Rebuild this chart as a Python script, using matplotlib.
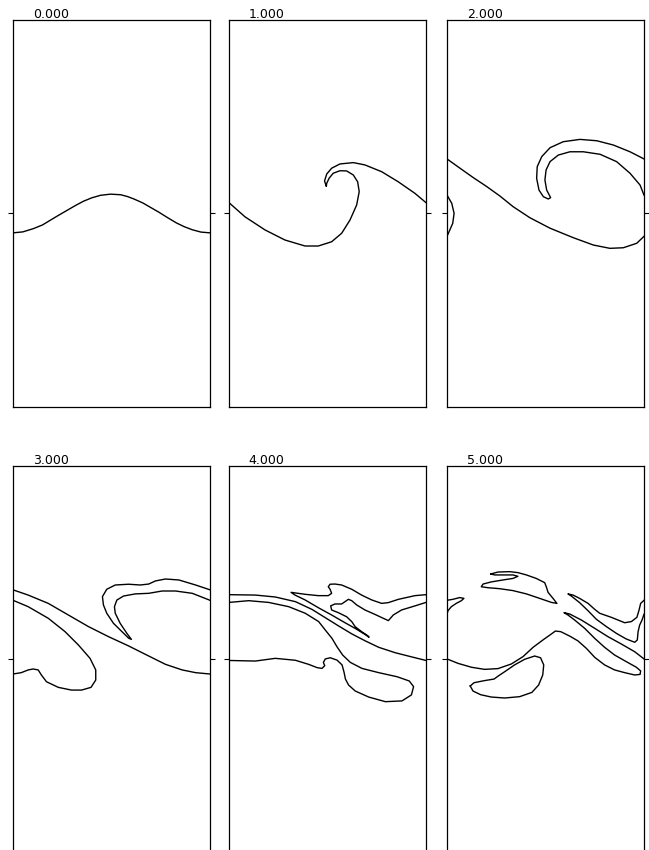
import matplotlib
matplotlib.use("Agg")
import matplotlib.pyplot as plt

# interface position, one wavelength wide (x 0..1), channel y -1..1
times = ["0.000", "1.000", "2.000", "3.000", "4.000", "5.000"]

# t = 0
t0_x = [0, 0.05, 0.104, 0.15, 0.189, 0.23, 0.274, 0.32, 0.359, 0.40, 0.444, 0.495, 0.546, 0.58,
        0.614, 0.66, 0.699, 0.74, 0.784, 0.83, 0.869, 0.91, 0.954, 1.0]
t0_y = [-0.100, -0.095, -0.078, -0.059, -0.035, -0.010, 0.016, 0.043, 0.064, 0.081, 0.094, 0.100, 0.097, 0.088,
        0.075, 0.054, 0.031, 0.007, -0.021, -0.049, -0.068, -0.084, -0.096, -0.100]

# t = 1
t1_x = [0, 0.081, 0.183, 0.284, 0.386, 0.453, 0.521, 0.572, 0.614, 0.648, 0.661, 0.653, 0.631,
        0.597, 0.563, 0.529, 0.508, 0.496, 0.494, 0.485, 0.496, 0.521, 0.563, 0.631, 0.690,
        0.775, 0.859, 0.944, 1.0]
t1_y = [0.056, -0.017, -0.085, -0.137, -0.168, -0.168, -0.146, -0.102, -0.034, 0.044, 0.113, 0.164, 0.199,
        0.220, 0.221, 0.208, 0.182, 0.156, 0.140, 0.168, 0.204, 0.234, 0.256, 0.263, 0.251,
        0.216, 0.164, 0.104, 0.056]

# t = 2
t2_main_x = [0, 0.066, 0.134, 0.202, 0.269, 0.336, 0.421, 0.523, 0.641, 0.743, 0.827, 0.895, 0.963, 1.0]
t2_main_y = [0.282, 0.234, 0.185, 0.139, 0.090, 0.035, -0.022, -0.076, -0.125, -0.163, -0.180, -0.177, -0.154, -0.118]
t2_edge_x = [0, 0.007, 0.029, 0.036, 0.024, 0.0]
t2_edge_y = [-0.118, -0.102, -0.051, 0.001, 0.053, 0.095]
t2_hook_x = [1.0, 0.980, 0.929, 0.861, 0.777, 0.692, 0.624, 0.565, 0.523, 0.503, 0.497, 0.506, 0.526,
             0.514, 0.489, 0.467, 0.455, 0.458, 0.481, 0.523, 0.590, 0.675, 0.760, 0.844, 0.929, 1.0]
t2_hook_y = [0.095, 0.147, 0.208, 0.268, 0.306, 0.319, 0.319, 0.302, 0.268, 0.225, 0.173, 0.121, 0.082,
             0.075, 0.087, 0.121, 0.182, 0.242, 0.294, 0.340, 0.371, 0.383, 0.376, 0.354, 0.319, 0.282]

# t = 3
t3_a_x = [0, 0.077, 0.179, 0.281, 0.383, 0.485, 0.587, 0.689, 0.774, 0.859, 0.927, 1.0]
t3_a_y = [0.360, 0.333, 0.290, 0.230, 0.170, 0.118, 0.070, 0.018, -0.025, -0.054, -0.068, -0.075]
t3_b_x = [0, 0.077, 0.179, 0.264, 0.332, 0.391, 0.420, 0.420, 0.396, 0.348, 0.297, 0.230, 0.170,
          0.144, 0.128, 0.102, 0.077, 0.042, 0]
t3_b_y = [0.306, 0.273, 0.213, 0.144, 0.075, 0.006, -0.054, -0.106, -0.144, -0.158, -0.158, -0.144, -0.115,
          -0.080, -0.054, -0.049, -0.054, -0.068, -0.075]
t3_hook_x = [1.0, 0.927, 0.842, 0.774, 0.723, 0.689, 0.646, 0.587, 0.519, 0.476, 0.454, 0.459, 0.476,
             0.510, 0.553, 0.587, 0.601, 0.578, 0.544, 0.519, 0.515, 0.527, 0.561, 0.621, 0.689,
             0.757, 0.825, 0.910, 1.0]
t3_hook_y = [0.360, 0.385, 0.411, 0.416, 0.406, 0.390, 0.385, 0.389, 0.385, 0.363, 0.325, 0.282, 0.239,
             0.187, 0.144, 0.110, 0.104, 0.135, 0.187, 0.239, 0.273, 0.307, 0.328, 0.339, 0.342,
             0.354, 0.354, 0.342, 0.306]

# t = 4
t4_top_x = [0, 0.134, 0.235, 0.337, 0.421, 0.489, 0.557, 0.624, 0.692, 0.760, 0.844, 0.929, 1.0]
t4_top_y = [0.335, 0.333, 0.323, 0.299, 0.259, 0.216, 0.173, 0.132, 0.096, 0.063, 0.035, 0.013, -0.005]
t4_lobe_x = [0, 0.134, 0.235, 0.337, 0.404, 0.447, 0.472, 0.486, 0.479, 0.489, 0.514, 0.548, 0.574,
             0.584, 0.591, 0.607, 0.641, 0.709, 0.794, 0.878, 0.926, 0.937, 0.915, 0.853, 0.760,
             0.675, 0.616, 0.577, 0.548, 0.523, 0.489, 0.455, 0.387, 0.303, 0.201, 0.100, 0]
t4_lobe_y = [-0.005, -0.008, 0.006, -0.004, -0.025, -0.042, -0.046, -0.032, -0.015, 0.003, 0.009, -0.003, -0.028,
             -0.066, -0.101, -0.132, -0.163, -0.194, -0.218, -0.214, -0.183, -0.140, -0.111, -0.089, -0.068,
             -0.046, -0.015, 0.023, 0.066, 0.109, 0.152, 0.196, 0.239, 0.273, 0.295, 0.304, 0.295]
t4_finger_x = [1.0, 0.944, 0.876, 0.834, 0.809, 0.783, 0.741, 0.690, 0.648, 0.623, 0.606, 0.589, 0.572,
               0.538, 0.516, 0.521, 0.555, 0.597, 0.623, 0.640, 0.673, 0.704, 0.711, 0.690, 0.640,
               0.589, 0.521, 0.453, 0.386, 0.335, 0.315, 0.386, 0.453, 0.504, 0.521, 0.513, 0.504,
               0.513, 0.538, 0.572, 0.623, 0.673, 0.724, 0.775, 0.809, 0.860, 0.944, 1.0]
t4_finger_y = [0.295, 0.277, 0.256, 0.230, 0.201, 0.213, 0.233, 0.256, 0.282, 0.304, 0.311, 0.299, 0.287,
               0.287, 0.277, 0.256, 0.242, 0.221, 0.196, 0.170, 0.144, 0.123, 0.115, 0.130, 0.161,
               0.190, 0.230, 0.268, 0.308, 0.333, 0.347, 0.337, 0.330, 0.330, 0.342, 0.363, 0.376,
               0.389, 0.390, 0.385, 0.363, 0.333, 0.308, 0.290, 0.294, 0.311, 0.330, 0.335]

# t = 5
t5_main_x = [0, 0.056, 0.124, 0.191, 0.259, 0.327, 0.386, 0.437, 0.487, 0.530, 0.550, 0.577, 0.623,
             0.665, 0.707, 0.750, 0.800, 0.851, 0.902, 0.953, 0.980, 0.983, 0.961, 0.910, 0.851,
             0.800, 0.750, 0.699, 0.648, 0.614, 0.594, 0.623, 0.682, 0.750, 0.817, 0.885, 0.953, 1.0]
t5_main_y = [0.003, -0.020, -0.040, -0.051, -0.047, -0.023, 0.015, 0.063, 0.101, 0.132, 0.147, 0.144, 0.121,
             0.096, 0.058, 0.011, -0.028, -0.054, -0.068, -0.080, -0.077, -0.059, -0.040, -0.011, 0.023,
             0.063, 0.109, 0.161, 0.204, 0.230, 0.242, 0.235, 0.204, 0.161, 0.118, 0.080, 0.040, 0.003]
t5_sliver_x = [1.0, 0.983, 0.975, 0.964, 0.936, 0.902, 0.868, 0.834, 0.800, 0.775, 0.750, 0.716, 0.673,
               0.640, 0.614, 0.631, 0.673, 0.716, 0.758, 0.809, 0.860, 0.910, 0.953, 0.966, 0.970,
               0.978, 0.990, 1.0]
t5_sliver_y = [0.306, 0.290, 0.256, 0.218, 0.196, 0.190, 0.204, 0.218, 0.230, 0.239, 0.259, 0.290, 0.316,
               0.333, 0.339, 0.328, 0.294, 0.252, 0.208, 0.170, 0.135, 0.106, 0.089, 0.101, 0.144,
               0.178, 0.204, 0.234]
t5_edge_x = [0, 0.030, 0.064, 0.086, 0.073, 0.047, 0.022, 0.005, 0]
t5_edge_y = [0.306, 0.311, 0.320, 0.316, 0.304, 0.290, 0.273, 0.252, 0.234]
t5_flame_x = [0.222, 0.259, 0.318, 0.360, 0.403, 0.453, 0.496, 0.504, 0.513, 0.538, 0.558, 0.530, 0.470,
              0.403, 0.335, 0.267, 0.208, 0.174, 0.183, 0.225, 0.284, 0.335, 0.360, 0.335, 0.284,
              0.242, 0.222]
t5_flame_y = [0.442, 0.452, 0.454, 0.449, 0.437, 0.419, 0.397, 0.376, 0.347, 0.316, 0.290, 0.295, 0.316,
              0.339, 0.356, 0.366, 0.371, 0.376, 0.390, 0.401, 0.411, 0.419, 0.430, 0.437, 0.437,
              0.437, 0.442]
t5_drop_x = [0.118, 0.137, 0.191, 0.239, 0.262, 0.293, 0.343, 0.394, 0.445, 0.475, 0.491, 0.486, 0.465,
             0.431, 0.369, 0.293, 0.225, 0.171, 0.132, 0.118]
t5_drop_y = [-0.137, -0.120, -0.109, -0.101, -0.084, -0.063, -0.028, 0.001, 0.018, 0.009, -0.028, -0.080, -0.132,
             -0.170, -0.192, -0.199, -0.194, -0.182, -0.163, -0.137]

curves = [
    [(t0_x, t0_y)],
    [(t1_x, t1_y)],
    [(t2_main_x, t2_main_y), (t2_edge_x, t2_edge_y), (t2_hook_x, t2_hook_y)],
    [(t3_a_x, t3_a_y), (t3_b_x, t3_b_y), (t3_hook_x, t3_hook_y)],
    [(t4_top_x, t4_top_y), (t4_lobe_x, t4_lobe_y), (t4_finger_x, t4_finger_y)],
    [(t5_main_x, t5_main_y), (t5_sliver_x, t5_sliver_y), (t5_edge_x, t5_edge_y),
     (t5_flame_x, t5_flame_y), (t5_drop_x, t5_drop_y)],
]

fig = plt.figure(figsize=(6.49, 8.5), dpi=100)

lefts = [13 / 649, 229 / 649, 447 / 649]
bottoms = [1 - 407 / 850, 1 - 853 / 850]
w, h = 197 / 649, 387 / 850

for i, segs in enumerate(curves):
    ax = fig.add_axes([lefts[i % 3], bottoms[i // 3], w, h])
    for xs, ys in segs:
        ax.plot(xs, ys, color="black", lw=1.0, solid_joinstyle="round")
    ax.set_xlim(0, 1)
    ax.set_ylim(-1, 1)
    ax.set_xticks([])
    ax.set_yticks([0])
    ax.set_yticklabels([])
    ax.tick_params(axis="y", direction="out", length=3.5, width=0.8,
                   left=True, right=True)
    for sp in ax.spines.values():
        sp.set_linewidth(0.9)
        sp.set_color("black")
    ax.text(0.10, 1.004, times[i], transform=ax.transAxes, ha="left",
            va="baseline", fontsize=9)

fig.savefig("out.png", dpi=100)
plt.close(fig)
